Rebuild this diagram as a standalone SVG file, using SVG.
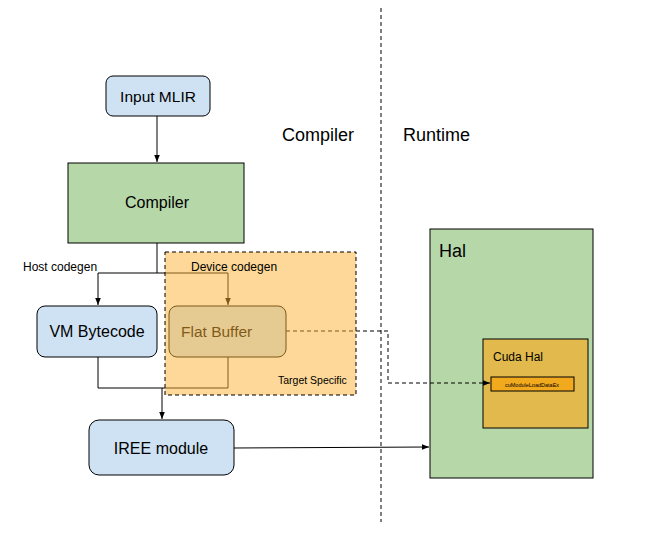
<svg xmlns="http://www.w3.org/2000/svg" width="660" height="536" viewBox="0 0 660 536">
<style>
text{font-family:Arial,"Liberation Sans",sans-serif;fill:#000}
.blue{fill:#cfe2f3;stroke:#000;stroke-width:1}
.green{fill:#b6d7a8;stroke:#000;stroke-width:1}
.ln{fill:none;stroke:#000;stroke-width:1}
.dash{fill:none;stroke:#000;stroke-width:1;stroke-dasharray:4,3}
</style>
<defs>
<marker id="ah" viewBox="0 0 10 10" refX="10" refY="5" markerWidth="7" markerHeight="7" markerUnits="userSpaceOnUse" orient="auto">
<path d="M0,1 L10,5 L0,9 z" fill="#000"/>
</marker>
</defs>
<rect width="660" height="536" fill="#fff"/>
<g id="divider"><line x1="381" y1="8" x2="381" y2="522" class="dash"/></g>
<g id="label-compiler"><text x="282" y="141" font-size="18">Compiler</text></g>
<g id="label-runtime"><text x="403" y="141" font-size="18">Runtime</text></g>
<g id="input-mlir"><rect x="106" y="76" width="104" height="40" rx="7" class="blue"/><text x="158" y="102" font-size="15.5" text-anchor="middle">Input MLIR</text></g>
<g id="compiler"><rect x="68" y="163" width="176" height="80" class="green"/><text x="157" y="208" font-size="16" text-anchor="middle">Compiler</text></g>
<g id="vm-bytecode"><rect x="37" y="306" width="120" height="51" rx="8" class="blue"/><text x="97" y="337" font-size="16" text-anchor="middle">VM Bytecode</text></g>
<g id="flat-buffer"><rect x="169" y="306" width="117" height="51" rx="8" class="blue"/><text x="181" y="337" font-size="15.5">Flat Buffer</text></g>
<g id="iree-module"><rect x="89" y="420" width="145" height="55" rx="10" class="blue"/><text x="161" y="454" font-size="16" text-anchor="middle">IREE module</text></g>
<g id="hal"><rect x="430" y="229" width="163" height="249" class="green"/><text x="439" y="257" font-size="18">Hal</text></g>
<g id="cuda-hal"><rect x="483" y="339" width="105" height="89" fill="#e1b94c" stroke="#000"/><text x="493" y="361" font-size="12">Cuda Hal</text></g>
<g id="cumodule"><rect x="491" y="377" width="83" height="14" fill="#f1a91e" stroke="#000"/><text x="532" y="386.5" font-size="5.5" text-anchor="middle" fill="#5a3d00">cuModuleLoadDataEx</text></g>
<g id="connectors">
<line x1="157" y1="116" x2="157" y2="162" class="ln" marker-end="url(#ah)"/>
<polyline points="157,243 157,273 98,273 98,305" class="ln" marker-end="url(#ah)"/>
<polyline points="157,273 228,273 228,305" class="ln" marker-end="url(#ah)"/>
<polyline points="98,357 98,388 228,388 228,357" class="ln"/>
<line x1="162" y1="388" x2="162" y2="419" class="ln" marker-end="url(#ah)"/>
<line x1="234" y1="448" x2="429" y2="447" class="ln" marker-end="url(#ah)"/>
<polyline points="286,331 388,331 388,383 490,383" class="dash" marker-end="url(#ah)"/>
</g>
<g id="target-specific">
<rect x="165" y="252" width="191" height="143" fill="#fbb131" fill-opacity="0.5"/>
<rect x="165" y="252" width="191" height="143" class="dash"/>
<text x="191" y="271" font-size="12">Device codegen</text>
<text x="278" y="384" font-size="10.5">Target Specific</text>
</g>
<g id="label-host"><text x="23" y="271" font-size="12">Host codegen</text></g>
</svg>
